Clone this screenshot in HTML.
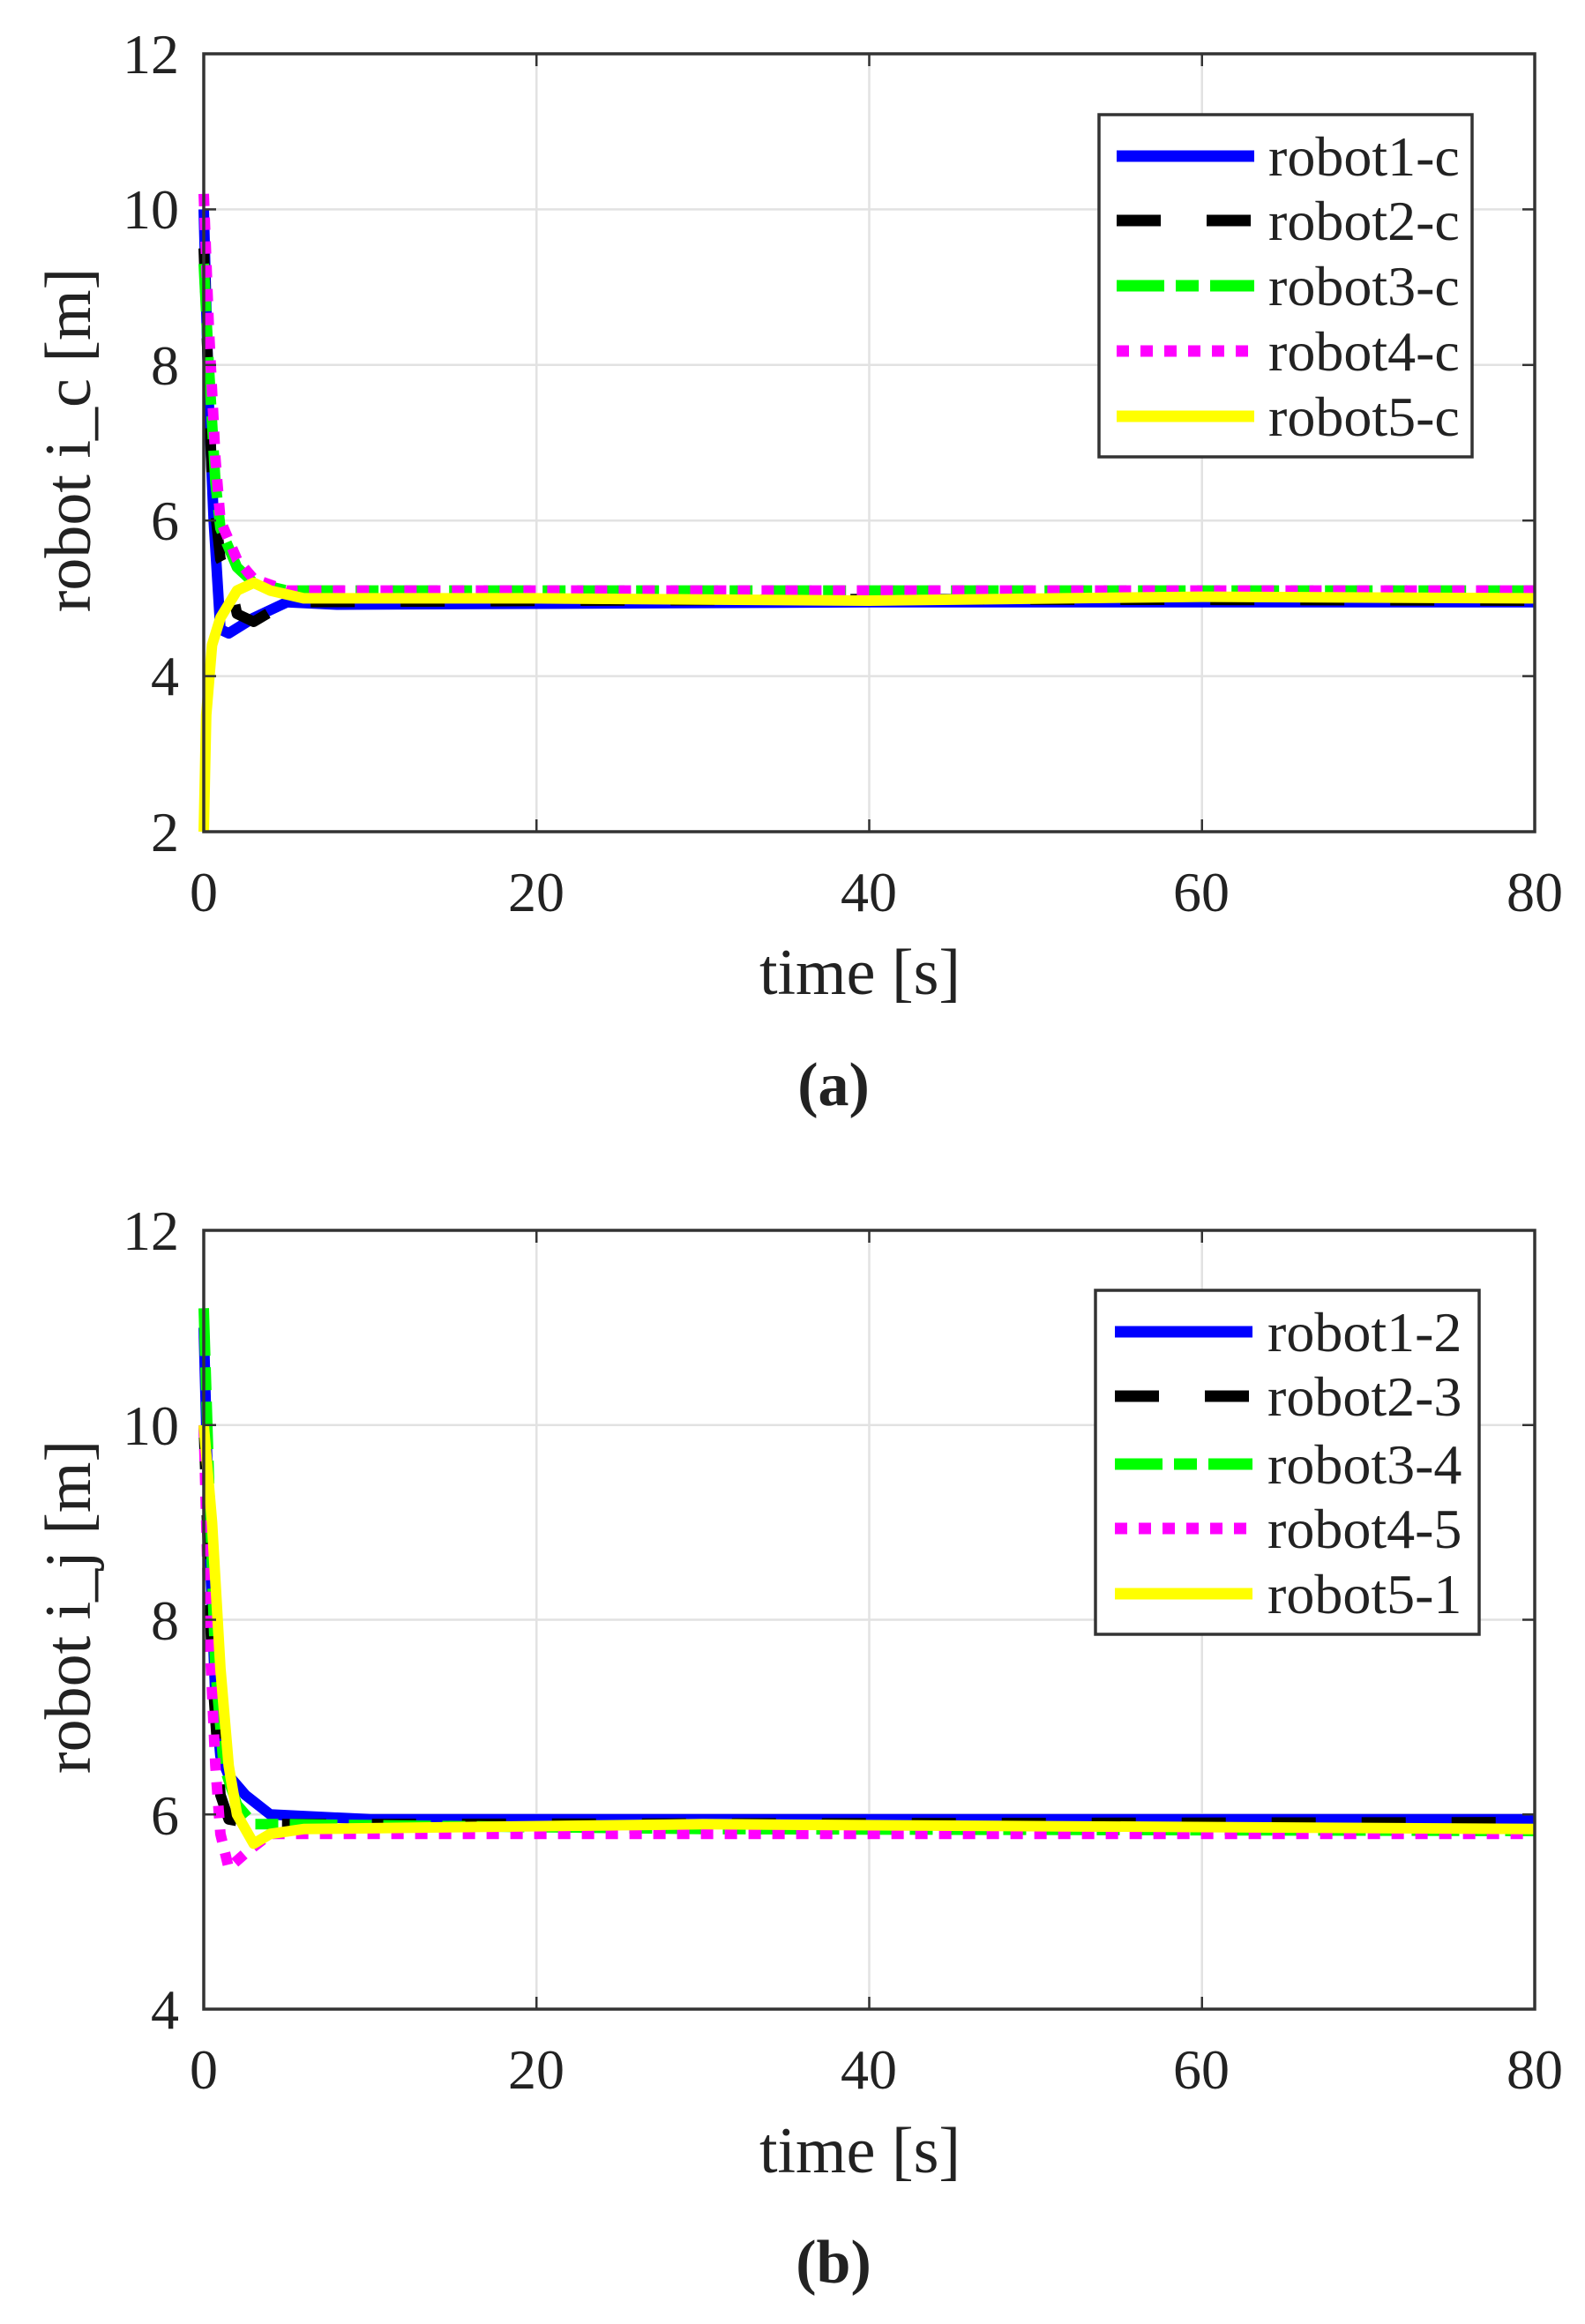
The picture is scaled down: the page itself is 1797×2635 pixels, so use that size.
<!DOCTYPE html>
<html><head><meta charset="utf-8"><style>
html,body{margin:0;padding:0;background:#fff;}
svg text{font-family:"Liberation Serif","Times New Roman",Times,serif;fill:#222;}
</style></head><body>
<svg id="s" width="1797" height="2630" viewBox="0 0 1797 2630" xmlns="http://www.w3.org/2000/svg" font-family="Liberation Serif, serif">
<g id="pa"></g>
<g id="pb"></g>
<g font-size="64" text-anchor="end">
<text x="203" y="83">12</text><text x="203" y="259">10</text><text x="203" y="436">8</text>
<text x="203" y="612">6</text><text x="203" y="788">4</text><text x="203" y="965">2</text>
</g>
<g font-size="64" text-anchor="middle">
<text x="231" y="1033">0</text><text x="608" y="1033">20</text><text x="985" y="1033">40</text>
<text x="1362" y="1033">60</text><text x="1740" y="1033">80</text>
</g>
<text x="975" y="1127" font-size="74" text-anchor="middle">time [s]</text>
<text x="0" y="0" font-size="74" text-anchor="middle" transform="translate(102,499) rotate(-90)">robot i_c [m]</text>
<text x="945" y="1253" font-size="70" font-weight="bold" text-anchor="middle">(a)</text>
<g font-size="64" text-anchor="end">
<text x="203" y="1417">12</text><text x="203" y="1638">10</text><text x="203" y="1859">8</text>
<text x="203" y="2080">6</text><text x="203" y="2300">4</text>
</g>
<g font-size="64" text-anchor="middle">
<text x="231" y="2368">0</text><text x="608" y="2368">20</text><text x="985" y="2368">40</text>
<text x="1362" y="2368">60</text><text x="1740" y="2368">80</text>
</g>
<text x="975" y="2463" font-size="74" text-anchor="middle">time [s]</text>
<text x="0" y="0" font-size="74" text-anchor="middle" transform="translate(102,1822) rotate(-90)">robot i_j [m]</text>
<text x="945" y="2588" font-size="70" font-weight="bold" text-anchor="middle">(b)</text>
</svg>
<script>
var NS="http://www.w3.org/2000/svg";
function el(p,n,a){var e=document.createElementNS(NS,n);for(var k in a)e.setAttribute(k,a[k]);p.appendChild(e);return e;}
var L=231,R=1740;
var dash={blue:null,black:"50,52",green:"54,13,26,13",magenta:"14,13",yellow:null};
var col={blue:"#0000ff",black:"#000000",green:"#00ff00",magenta:"#ff00ff",yellow:"#ffff00"};
function plot(g,top,bot,ymin,ymax,yt,series,leg){
  var X=function(t){return L+(R-L)*t/80;};
  var Y=function(v){return top+(ymax-v)*(bot-top)/(ymax-ymin);};
  for(var t=20;t<80;t+=20)el(g,"line",{x1:X(t),x2:X(t),y1:top,y2:bot,stroke:"#e2e2e2","stroke-width":2.5});
  yt.forEach(function(v){if(v>ymin&&v<ymax)el(g,"line",{x1:L,x2:R,y1:Y(v),y2:Y(v),stroke:"#e2e2e2","stroke-width":2.5});});
  series.forEach(function(s){
    var d=s.p.map(function(p,i){return (i?"L":"M")+X(p[0]).toFixed(1)+" "+Y(p[1]).toFixed(1);}).join(" ");
    var a={d:d,fill:"none",stroke:col[s.c],"stroke-width":12,"stroke-linejoin":"round"};
    if(dash[s.c])a["stroke-dasharray"]=dash[s.c];
    el(g,"path",a);
  });
  for(var t=20;t<80;t+=20){el(g,"line",{x1:X(t),x2:X(t),y1:bot,y2:bot-14,stroke:"#333","stroke-width":2.5});el(g,"line",{x1:X(t),x2:X(t),y1:top,y2:top+14,stroke:"#333","stroke-width":2.5});}
  yt.forEach(function(v){el(g,"line",{x1:L,x2:L+14,y1:Y(v),y2:Y(v),stroke:"#333","stroke-width":2.5});el(g,"line",{x1:R,x2:R-14,y1:Y(v),y2:Y(v),stroke:"#333","stroke-width":2.5});});
  el(g,"rect",{x:L,y:top,width:R-L,height:bot-top,fill:"none",stroke:"#333","stroke-width":3.5});
  el(g,"rect",{x:leg.x,y:leg.y,width:leg.w,height:leg.h,fill:"#fff",stroke:"#333","stroke-width":3.5});
  leg.items.forEach(function(it,i){
    var y=leg.rows[i];
    var a={x1:leg.sx,x2:leg.sx+156,y1:y,y2:y,stroke:col[it[0]],"stroke-width":13};
    if(dash[it[0]])a["stroke-dasharray"]=dash[it[0]];
    el(g,"line",a);
    var t=el(g,"text",{x:leg.tx,y:y+22,"font-size":64});t.textContent=it[1];
  });
}
plot(document.getElementById("pa"),61,943,2,12,[2,4,6,8,10,12],[
 {c:"blue",p:[[0,10],[0.3,7.5],[0.6,6],[1,4.6],[1.5,4.55],[3,4.75],[5,4.95],[8,4.92],[40,4.95],[80,4.95]]},
 {c:"black",p:[[0,9.5],[0.5,6.5],[1,5.5],[1.5,5.3],[2,4.8],[3,4.7],[5,4.95],[40,4.99],[80,4.97]]},
 {c:"green",p:[[0,9.3],[0.3,8],[0.7,6.5],[1,5.9],[2,5.4],[3,5.2],[5,5.1],[80,5.1]]},
 {c:"magenta",p:[[0,10.2],[0.3,8.5],[0.7,6.8],[1,6],[2,5.5],[3,5.25],[5,5.1],[80,5.1]]},
 {c:"yellow",p:[[0,2],[0.15,3.5],[0.5,4.4],[1,4.75],[2,5.1],[3,5.2],[4,5.1],[6,5.0],[20,5.0],[40,4.97],[60,5.02],[80,5.0]]}
],{x:1246,y:130,w:423,h:388,sx:1266,tx:1438,rows:[177,250,324,398,472],
 items:[["blue","robot1-c"],["black","robot2-c"],["green","robot3-c"],["magenta","robot4-c"],["yellow","robot5-c"]]});
plot(document.getElementById("pb"),1395,2278,4,12,[4,6,8,10,12],[
 {c:"blue",p:[[0,11],[0.3,9],[0.7,7.2],[1,6.6],[1.5,6.4],[2.5,6.2],[4,6.0],[10,5.95],[80,5.95]]},
 {c:"black",p:[[0,10],[0.5,7.5],[1,6.2],[1.5,5.95],[3,5.9],[80,5.92]]},
 {c:"green",p:[[0,11.2],[0.3,9.5],[0.7,7.5],[1.2,6.5],[2,6.1],[3,5.9],[5,5.9],[30,5.85],[80,5.83]]},
 {c:"magenta",p:[[0,10],[0.3,8],[0.7,6.5],[1,5.8],[1.5,5.45],[2.5,5.6],[4,5.8],[80,5.8]]},
 {c:"yellow",p:[[0,10],[0.5,9],[1,7.5],[1.5,6.5],[2,6],[3,5.7],[4,5.8],[6,5.85],[30,5.9],[80,5.85]]}
],{x:1242,y:1463,w:435,h:390,sx:1264,tx:1437,rows:[1510,1583,1660,1733,1807],
 items:[["blue","robot1-2"],["black","robot2-3"],["green","robot3-4"],["magenta","robot4-5"],["yellow","robot5-1"]]});
</script>
</body></html>
